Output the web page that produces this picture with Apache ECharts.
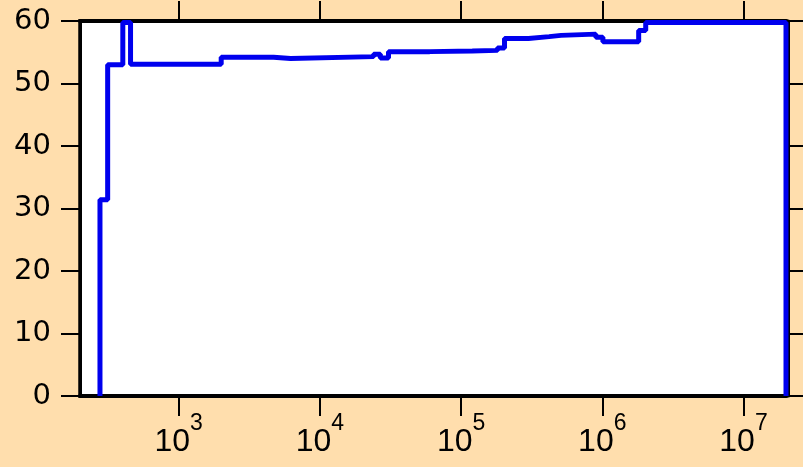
<!DOCTYPE html>
<html>
<head>
<meta charset="utf-8">
<script src="https://cdn.jsdelivr.net/npm/echarts@6/dist/echarts.min.js"></script>
<style>
  html, body { margin: 0; padding: 0; background: #FFDEAD; }
  #chart { width: 803px; height: 467px; }
</style>
</head>
<body>
<div id="chart"></div>
<script>
// Step curve: value stepY[i] holds from stepX[i] up to stepX[i+1]
const stepX = [277, 277, 314, 402, 456, 2000, 4700, 6200, 24000, 26800, 30600, 60000, 120000, 181000, 203000, 300000, 420000, 510000, 900000, 1010000, 1810000, 2030000, 20000000];
const stepY = [0, 31.4, 53.0, 59.75, 53.1, 54.2, 54.0, 54.3, 54.7, 54.1, 55.1, 55.2, 55.3, 55.7, 57.2, 57.5, 57.7, 57.9, 57.4, 56.7, 58.5, 59.75, 0];
const xTicks = [1e3, 1e4, 1e5, 1e6, 1e7];
const yMin = 0, yMax = 60, yStep = 10;
const xMin = 200, xMax = 2e7;

const data = stepX.map((x, i) => [x, stepY[i]]);
const font = 'Liberation Sans';

const chart = echarts.init(document.getElementById('chart'), null, { renderer: 'canvas' });
const tickFmt = function (v) {
  const e = Math.round(Math.log10(v));
  return '{b|10}{s|' + e + '}';
};
const option = {
  backgroundColor: '#FFDEAD',
  animation: false,
  grid: { left: 80, right: 17, top: 21, bottom: 71, show: true, backgroundColor: '#ffffff', borderColor: '#000', borderWidth: 3.5 },
  xAxis: [
    {
      type: 'log', logBase: 10, min: xMin, max: xMax, position: 'bottom',
      axisLine: { show: true, lineStyle: { color: '#000', width: 4 } },
      axisTick: { show: true, inside: false, length: 20, customValues: xTicks, lineStyle: { color: '#000', width: 2 } },
      axisLabel: {
        show: true, customValues: xTicks, margin: 16, color: '#000',
        formatter: tickFmt,
        rich: {
          b: { fontFamily: font, fontSize: 32, lineHeight: 46, verticalAlign: 'bottom', color: '#000' },
          s: { fontFamily: font, fontSize: 23, lineHeight: 23, verticalAlign: 'top', color: '#000' }
        }
      },
      splitLine: { show: false }
    },
    {
      type: 'log', logBase: 10, min: xMin, max: xMax, position: 'top',
      axisLine: { show: true, onZero: false, lineStyle: { color: '#000', width: 4 } },
      axisTick: { show: true, inside: false, length: 20, customValues: xTicks, lineStyle: { color: '#000', width: 2 } },
      axisLabel: { show: true, customValues: xTicks, color: 'rgba(0,0,0,0)', formatter: tickFmt },
      splitLine: { show: false }
    }
  ],
  yAxis: [
    {
      type: 'value', min: yMin, max: yMax, interval: yStep, position: 'left',
      axisLine: { show: true, onZero: false, lineStyle: { color: '#000', width: 3 } },
      axisTick: { show: true, inside: false, length: 19, lineStyle: { color: '#000', width: 2 } },
      axisLabel: { show: true, margin: 29, fontFamily: 'DejaVu Sans', fontSize: 29, color: '#000' },
      splitLine: { show: false }
    },
    {
      type: 'value', min: yMin, max: yMax, interval: yStep, position: 'right', offset: 2,
      axisLine: { show: true, onZero: false, lineStyle: { color: '#000', width: 3 } },
      axisTick: { show: true, inside: false, length: 18, lineStyle: { color: '#000', width: 2 } },
      axisLabel: { show: false },
      splitLine: { show: false }
    }
  ],
  series: [
    {
      type: 'line', xAxisIndex: 0, yAxisIndex: 0,
      data: data, step: 'end', showSymbol: false, symbol: 'none',
      clip: false,
      lineStyle: { color: '#0000ee', width: 5 },
      z: 5
    }
  ]
};
chart.setOption(option);
</script>
</body>
</html>
